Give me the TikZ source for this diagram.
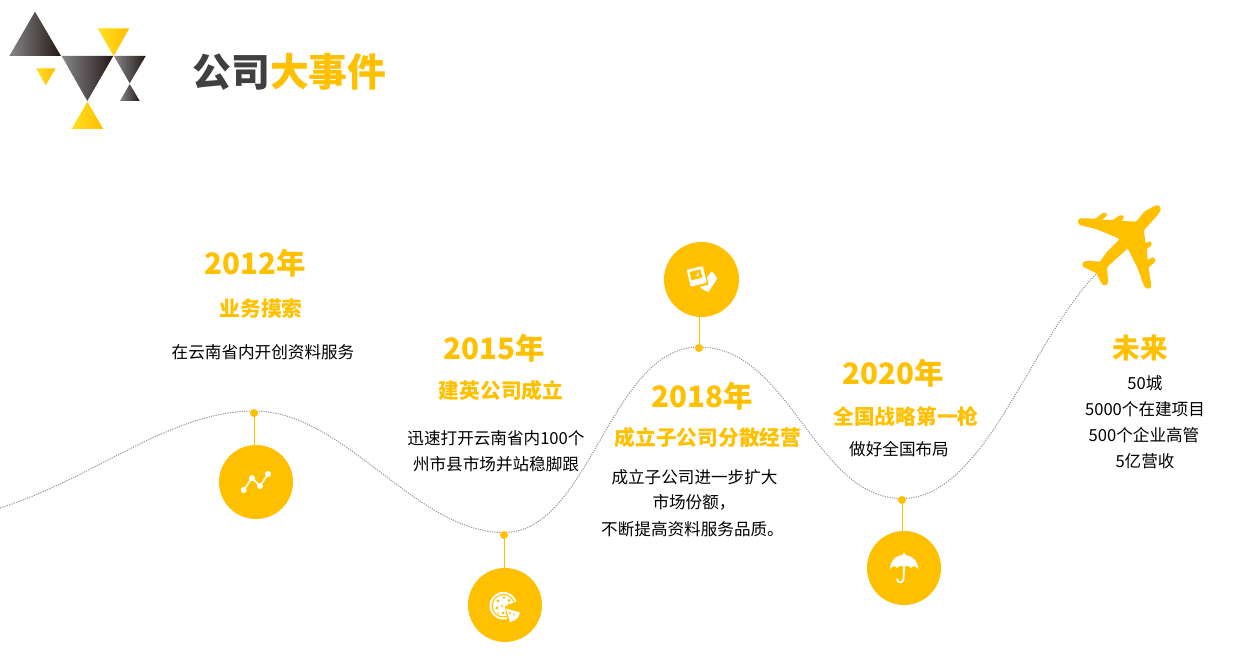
\documentclass[tikz,border=0pt]{standalone}
\usepackage{fontspec}
\setmainfont{Noto Sans CJK SC}
\definecolor{gold}{HTML}{FFC000}
\definecolor{ink}{HTML}{404040}
\definecolor{dkA}{HTML}{86868A}
\definecolor{dkB}{HTML}{231815}
\definecolor{yeA}{HTML}{FFE020}
\definecolor{yeB}{HTML}{FFBC00}
\tikzset{
  txt/.style={inner sep=0pt,outer sep=0pt,anchor=center,align=center,yshift=-0.8pt},
  yearlbl/.style={txt,text=gold,font=\fontsize{29.5}{36}\selectfont\bfseries},
  headlbl/.style={txt,text=gold,font=\fontsize{20.7}{25}\selectfont\bfseries},
  bodylbl/.style={txt,text=black,font=\fontsize{16.6}{20}\selectfont},
  titlelbl/.style={txt,font=\fontsize{38.8}{46}\selectfont\bfseries},
  disc/.style={circle,fill=gold,draw=none,minimum size=74pt,inner sep=0pt},
  pin/.style={circle,fill=gold,draw=none,minimum size=8pt,inner sep=0pt},
  stem/.style={draw=gold,line width=1pt},
  route/.style={draw=black!42,line width=1pt,dash pattern=on 1.2pt off 1.2pt},
  darktri/.style={left color=dkA,right color=dkB},
  yellowtri/.style={left color=yeA,right color=yeB},
  iconw/.style={fill=white,draw=none}
}
\begin{document}
\begin{tikzpicture}[x=1pt,y=-1pt]
\useasboundingbox (0,0) rectangle (1248,660);
% logo
\shade[darktri] (35,11.7)--(61,56)--(9.3,56)--cycle;
\shade[yellowtri] (97.7,28.3)--(129.3,28.3)--(113.7,56)--cycle;
\shade[yellowtri] (36,68.3)--(55.7,68.3)--(45.7,85.3)--cycle;
\shade[darktri] (61.7,56)--(113.3,56)--(87.3,101)--cycle;
\shade[darktri] (114,56)--(145.7,56)--(129.7,83.3)--cycle;
\shade[darktri] (129.7,84)--(139.7,101)--(120,101)--cycle;
\shade[yellowtri] (87.3,101.7)--(103.3,129)--(71.7,129)--cycle;
% title
\node[titlelbl] (title) at (289.5,71) {\textcolor{ink}{公司}\textcolor{gold}{大事件}};
% route anchors
\coordinate (r0) at (0,508);
\coordinate (r1) at (254,411);
\coordinate (r2) at (504,532.5);
\coordinate (r3) at (699,347);
\coordinate (r4) at (902,498.5);
\coordinate (r5) at (1098,272);
\draw[route] (r0) .. controls (95,478) and (170,411) .. (r1)
  .. controls (345,411) and (415,532.5) .. (r2)
  .. controls (590,532.5) and (610,347) .. (r3)
  .. controls (790,347) and (815,498.5) .. (r4)
  .. controls (985,498.5) and (1030,340) .. (r5);
% pins and discs
\node[pin] (p1) at (254,413) {};
\node[pin] (p2) at (504,535) {};
\node[pin] (p3) at (699,348) {};
\node[pin] (p4) at (902,500) {};
\node[disc] (d1) at (256,482) {};
\node[disc] (d2) at (505,605) {};
\node[disc,minimum size=75pt] (d3) at (701.5,279.5) {};
\node[disc] (d4) at (904,568) {};
\draw[stem] (p1.center) -- (254,445);
\draw[stem] (p2.center) -- (504,568);
\draw[stem] (p3.center) -- (699,317);
\draw[stem] (p4.center) -- (902,531);
% chart icon
\draw[white,line width=1.5pt] (243.7,490)--(252,478)--(260,486)--(268,474);
\foreach \q in {(243.7,490),(252,478),(260,486),(268,474)} \fill[white] \q circle (3);
% pizza icon
\fill[iconw] (503.3,605.7) circle (13.8);
\fill[gold] (503.3,605.7) circle (11.8);
\fill[iconw] (503.3,605.7) circle (10.6);
\fill[gold] (505,606.5) -- (520,600) -- (522,622) -- (508,624) -- cycle;
\foreach \q/\s in {(498,601)/1.6,(504,597.5)/1.4,(509,600.5)/1.5,(497,608)/1.6,(502,606)/1.1,(503,613)/1.6,(508.5,604)/0.9,(498,613)/0.9}
  \fill[gold] \q circle (\s);
\fill[iconw] (506,608.5) -- (520,612.5) .. controls (519,618) and (515,621) .. (510,622) -- cycle;
\fill[gold] (510,613) circle (1.2) (514,614.5) circle (1);
% photo icon
\fill[iconw,rounded corners=0.8pt] (711.7,271) -- (717.3,278.3) -- (708.3,292.3) -- (700,287.7) -- cycle;
\fill[gold] (685.5,269.5) -- (703.5,265) -- (708.5,284.5) -- (690.5,289) -- cycle;
\fill[iconw,rounded corners=0.8pt] (686.7,270) -- (702.7,266) -- (706.7,282.7) -- (690.7,286.7) -- cycle;
\fill[gold] (689.5,272) -- (700.3,269.3) -- (702.3,277.6) -- (691.5,280.3) -- cycle;
\fill[iconw] (696.3,276.5) -- (698.3,271.8) -- (698.8,276) -- cycle;
% umbrella icon
\fill[iconw] (889.9,569.3) .. controls (891,558) and (898,555) .. (903,555) -- (903,553) -- (905,553) -- (905,555)
  .. controls (911,555.5) and (917.5,559) .. (918.3,569.3)
  .. controls (916,565.5) and (912.5,565.5) .. (911,568)
  .. controls (909,565) and (905.5,565) .. (904,567.5)
  .. controls (902.5,565) and (899,565) .. (897,568)
  .. controls (895.5,565.5) and (892,565.5) .. (889.9,569.3) -- cycle;
\draw[white,line width=1.8pt,line cap=round] (904,566) -- (903.5,579) .. controls (903.5,583.5) and (897,583.5) .. (897,579);
% plane
\fill[gold,draw=gold,line width=1.6pt,line join=round,rounded corners=1.5pt]
  (1157,205.5) -- (1145,212) -- (1136.5,222.5) -- (1119,221.5) -- (1124,217) -- (1120.5,215.5) -- (1113,221)
  -- (1100,220.5) -- (1107,214.5) -- (1104,213) -- (1096,219.5) -- (1079,219) -- (1079,224)
  -- (1097,228.5) -- (1120,238) -- (1120,240) -- (1107,253) -- (1100.5,262.5) -- (1085,261.5) -- (1082.5,265) -- (1085,267)
  -- (1097,272.5) -- (1102,283) -- (1105,285.5) -- (1107.5,282.5) -- (1106,267) -- (1128,247)
  -- (1138,267) -- (1145,286.5) -- (1149.5,288.5) -- (1150.5,285) -- (1147.5,267) -- (1154,262) -- (1155,258.5) -- (1152,258) -- (1147,262)
  -- (1146,248) -- (1151.5,245) -- (1150,241.5) -- (1145,245) -- (1143,230) -- (1158,213.5) -- (1160.5,208) -- cycle;
% labels
\node[yearlbl] (y1) at (255,262) {2012年};
\node[headlbl] (h1) at (261,308) {业务摸索};
\node[bodylbl] (b1) at (263,351.5) {在云南省内开创资料服务};
\node[yearlbl] (y2) at (494,347) {2015年};
\node[headlbl] (h2) at (501,390) {建英公司成立};
\node[bodylbl] (b2a) at (496,437) {迅速打开云南省内100个};
\node[bodylbl] (b2b) at (496,463) {州市县市场并站稳脚跟};
\node[yearlbl] (y3) at (702,395) {2018年};
\node[headlbl] (h3) at (708,437) {成立子公司分散经营};
\node[bodylbl] (b3a) at (694.5,476) {成立子公司进一步扩大};
\node[bodylbl] (b3b) at (694,502) {市场份额，};
\node[bodylbl] (b3c) at (692.5,528) {不断提高资料服务品质。};
\node[yearlbl] (y4) at (893,372) {2020年};
\node[headlbl] (h4) at (906,416) {全国战略第一枪};
\node[bodylbl] (b4) at (899,448) {做好全国布局};
\node[yearlbl,font=\fontsize{27.5}{33}\selectfont\bfseries] (y5) at (1140,347) {未来};
\node[bodylbl] (b5a) at (1145,382) {50城};
\node[bodylbl] (b5b) at (1145,408) {5000个在建项目};
\node[bodylbl] (b5c) at (1144,434) {500个企业高管};
\node[bodylbl] (b5d) at (1145,460) {5亿营收};
\end{tikzpicture}
\end{document}
